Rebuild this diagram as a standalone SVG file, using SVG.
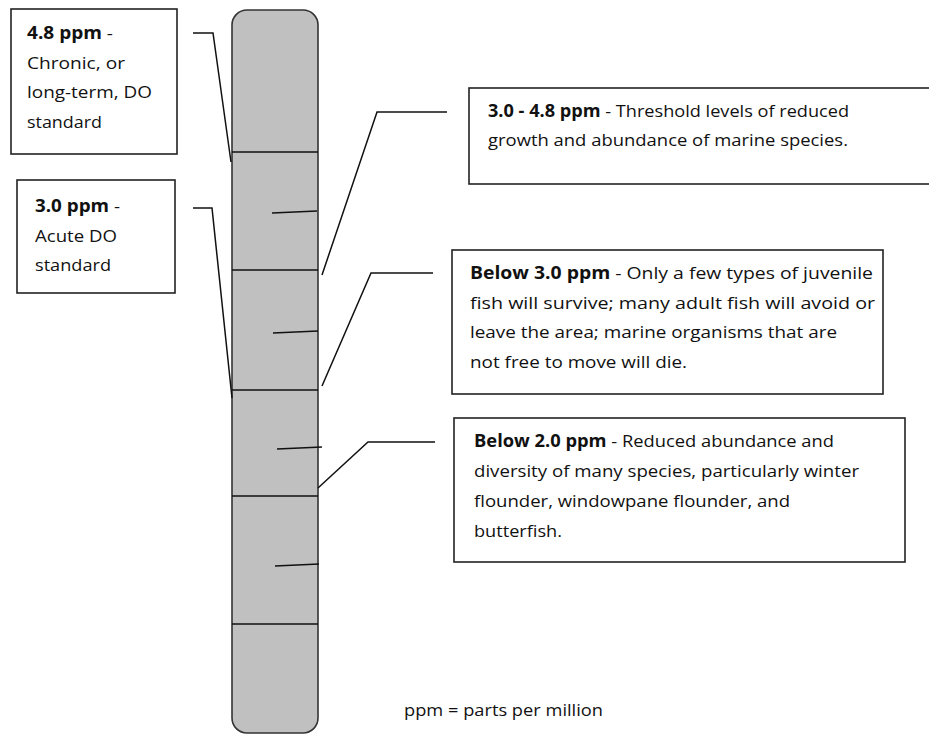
<svg xmlns="http://www.w3.org/2000/svg" width="929" height="734" viewBox="0 0 929 734">
<style>
.box{fill:#fff;stroke:#222;stroke-width:1.6}
.bar{fill:#c0c0c0;stroke:#333;stroke-width:1.6}
.ln{fill:none;stroke:#111;stroke-width:1.5}
text{font-family:"Open Sans","Noto Sans","Liberation Sans",sans-serif;font-size:17px;fill:#111}
.b{font-weight:bold}
</style>
<rect width="929" height="734" fill="#fff"/>
<g id="scale-bar">
<rect class="bar" x="232" y="10" width="86" height="723" rx="15" ry="15"/>
<g class="ln">
<line x1="232" y1="152" x2="318" y2="152"/>
<line x1="232" y1="270" x2="318" y2="270"/>
<line x1="232" y1="390" x2="318" y2="390"/>
<line x1="232" y1="496" x2="318" y2="496"/>
<line x1="232" y1="624" x2="318" y2="624"/>
<line x1="272" y1="213" x2="317" y2="211"/>
<line x1="273" y1="333" x2="318" y2="331"/>
<line x1="277" y1="449" x2="322" y2="447"/>
<line x1="275" y1="566" x2="319" y2="564"/>
</g>
</g>
<g id="connectors" class="ln">
<polyline points="193,33 213,33 231,162"/>
<polyline points="193,208 212,208 232,398"/>
<polyline points="447,112 377,112 322,275"/>
<polyline points="433,273 371,273 322,386"/>
<polyline points="435,442 368,442 318,488"/>
</g>
<g id="box-chronic">
<rect class="box" x="11" y="9" width="166" height="145"/>
<text x="27" y="39" textLength="86" lengthAdjust="spacingAndGlyphs"><tspan class="b">4.8 ppm</tspan> -</text>
<text x="27" y="69" textLength="98" lengthAdjust="spacingAndGlyphs">Chronic, or</text>
<text x="27" y="98" textLength="125" lengthAdjust="spacingAndGlyphs">long-term, DO</text>
<text x="27" y="128" textLength="75" lengthAdjust="spacingAndGlyphs">standard</text>
</g>
<g id="box-acute">
<rect class="box" x="17" y="180" width="158" height="113"/>
<text x="35" y="212" textLength="85" lengthAdjust="spacingAndGlyphs"><tspan class="b">3.0 ppm</tspan> -</text>
<text x="35" y="242" textLength="82" lengthAdjust="spacingAndGlyphs">Acute DO</text>
<text x="35" y="271" textLength="76" lengthAdjust="spacingAndGlyphs">standard</text>
</g>
<g id="box-threshold">
<rect class="box" x="469" y="88" width="470" height="96"/>
<text x="488" y="117" textLength="361" lengthAdjust="spacingAndGlyphs"><tspan class="b">3.0 - 4.8 ppm</tspan> - Threshold levels of reduced</text>
<text x="488" y="146" textLength="360" lengthAdjust="spacingAndGlyphs">growth and abundance of marine species.</text>
</g>
<g id="box-below3">
<rect class="box" x="452" y="250" width="431" height="144"/>
<text x="470" y="279" textLength="403" lengthAdjust="spacingAndGlyphs"><tspan class="b">Below 3.0 ppm</tspan> - Only a few types of juvenile</text>
<text x="470" y="309" textLength="405" lengthAdjust="spacingAndGlyphs">fish will survive; many adult fish will avoid or</text>
<text x="470" y="338" textLength="367" lengthAdjust="spacingAndGlyphs">leave the area; marine organisms that are</text>
<text x="470" y="368" textLength="217" lengthAdjust="spacingAndGlyphs">not free to move will die.</text>
</g>
<g id="box-below2">
<rect class="box" x="454" y="418" width="451" height="144"/>
<text x="474" y="447" textLength="360" lengthAdjust="spacingAndGlyphs"><tspan class="b">Below 2.0 ppm</tspan> - Reduced abundance and</text>
<text x="474" y="477" textLength="385" lengthAdjust="spacingAndGlyphs">diversity of many species, particularly winter</text>
<text x="474" y="507" textLength="316" lengthAdjust="spacingAndGlyphs">flounder, windowpane flounder, and</text>
<text x="474" y="537" textLength="88" lengthAdjust="spacingAndGlyphs">butterfish.</text>
</g>
<g id="footnote">
<text x="404" y="716" textLength="199" lengthAdjust="spacingAndGlyphs">ppm = parts per million</text>
</g>
</svg>
